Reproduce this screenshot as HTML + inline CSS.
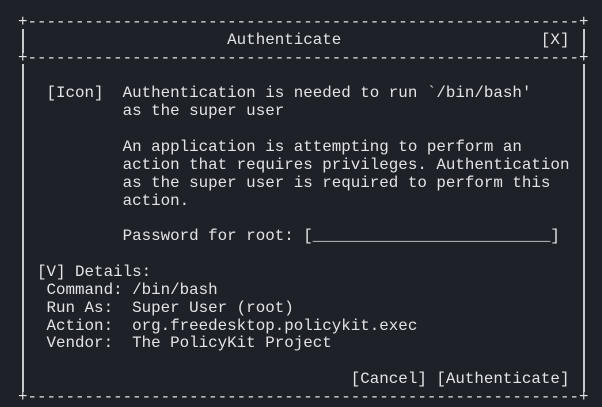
<!DOCTYPE html>
<html><head><meta charset="utf-8"><style>
html,body{margin:0;padding:0;background:#1f2129;width:602px;height:404px;overflow:hidden}
pre{position:absolute;left:18px;top:14px;margin:0;font-family:"Liberation Mono","DejaVu Sans Mono",monospace;font-size:15.85px;line-height:17.86px;color:#e2e3e7;letter-spacing:0}
.v{position:absolute;width:2px;background:#c8c9cd}
</style></head><body>
<div class="v" style="left:21.5px;top:29px;height:24px"></div>
<div class="v" style="left:21.5px;top:64px;height:328px"></div>
<div class="v" style="left:583px;top:29px;height:24px"></div>
<div class="v" style="left:583px;top:64px;height:328px"></div>
<pre>+----------------------------------------------------------+
                      Authenticate                     [X]
+----------------------------------------------------------+

   [Icon]  Authentication is needed to run `/bin/bash'
           as the super user

           An application is attempting to perform an
           action that requires privileges. Authentication
           as the super user is required to perform this
           action.

           Password for root: [_________________________]

  [V] Details:
   Command: /bin/bash
   Run As:  Super User (root)
   Action:  org.freedesktop.policykit.exec
   Vendor:  The PolicyKit Project

                                   [Cancel] [Authenticate]
+----------------------------------------------------------+</pre>
</body></html>
